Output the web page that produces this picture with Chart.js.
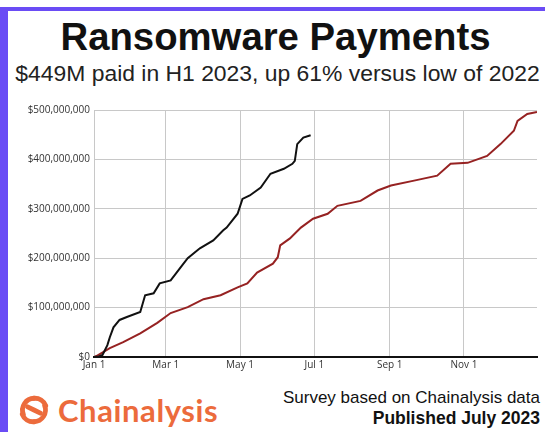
<!DOCTYPE html>
<html>
<head>
<meta charset="utf-8">
<script src="https://cdn.jsdelivr.net/npm/chart.js@4"></script>
<style>
  html, body { margin: 0; padding: 0; background: #fff; }
  #frame {
    position: relative; width: 545px; height: 432px; overflow: hidden;
    background: #fff; font-family: "Liberation Sans", Arial, sans-serif;
  }
  #frame .bar-top { position: absolute; left: 0; top: 7px; width: 545px; height: 4px; background: #6a4cf5; }
  #frame .bar-left { position: absolute; left: 0; top: 7px; width: 8px; height: 425px; background: #6a4cf5; }
  h1 { position: absolute; left: 6px; right: 0; top: 15px; margin: 0; text-align: center; line-height: 44px;
       font-size: 38.3px; font-weight: bold; color: #111; }
  .sub { position: absolute; left: 10px; right: 0; top: 59px; text-align: center; font-size: 22.9px; line-height: 28px; color: #222; white-space: nowrap; }
  #wrap { position: absolute; left: 8px; top: 100px; width: 537px; height: 285px; }
  .logo { position: absolute; left: 18px; top: 394px; display: flex; align-items: center; gap: 8px; }
  .logo span { font-family: "Lato", "Open Sans", sans-serif; font-weight: bold; font-size: 31px; line-height: 32px; color: #ec6b3c; letter-spacing: 0.6px; }
  .note { position: absolute; right: 5px; top: 387px; text-align: right; font-size: 17px; color: #111; line-height: 21px; white-space: nowrap; }
  .note b { font-size: 17.5px; }
</style>
</head>
<body>
<div id="frame">
  <div class="bar-top"></div>
  <div class="bar-left"></div>
  <h1>Ransomware Payments</h1>
  <div class="sub">$449M paid in H1 2023, up 61% versus low of 2022</div>
  <div id="wrap"><canvas id="chart"></canvas></div>
  <div class="logo">
    <svg width="32" height="32" viewBox="0 0 30 30">
      <g fill="none" stroke="#ec6b3c" stroke-width="4.5" stroke-linecap="round">
        <path d="M15 4 A11 11 0 0 0 5 19"/>
        <path d="M26 11 A11 11 0 0 0 15 4"/>
        <path d="M15 26 A11 11 0 0 0 25 11"/>
        <path d="M4 19 A11 11 0 0 0 15 26"/>
        <path d="M9 12 L15 15 L21 18"/>
      </g>
    </svg>
    <span>Chainalysis</span>
  </div>
  <div class="note">Survey based on Chainalysis data<br><b>Published July 2023</b></div>
</div>
<script>
// day of year (0 = Jan 1) and cumulative payments in USD millions
const days2023 = [0, 4, 7, 11, 13, 16, 21, 27, 38, 42, 49, 54, 63, 71, 77, 87, 98, 106, 109, 118, 122, 128, 137, 145, 156, 163, 165, 167, 172, 178];
const paid2023 = [0, 1, 4, 24, 40, 60, 75, 81, 91, 125, 129, 149, 155, 181, 200, 220, 236, 256, 262, 290, 320, 327, 343, 371, 381, 391, 397, 431, 444, 449];

const days2022 = [0, 2, 13, 24, 38, 52, 63, 77, 90, 104, 118, 126, 134, 147, 151, 153, 161, 170, 180, 192, 200, 219, 233, 244, 263, 282, 293, 307, 323, 334, 345, 348, 356, 364];
const paid2022 = [0, 2, 18, 30, 48, 69, 89, 101, 117, 125, 141, 149, 171, 189, 202, 226, 240, 262, 280, 290, 306, 316, 337, 347, 357, 367, 391, 393, 407, 431, 458, 478, 492, 496];

const tickDays = [0, 59, 120, 181, 243, 304];
const tickLabels = ['Jan 1', 'Mar 1', 'May 1', 'Jul 1', 'Sep 1', 'Nov 1'];
const yTicks = [0, 100, 200, 300, 400, 500];

const toPoints = (xs, ys) => xs.map((d, i) => ({ x: d, y: ys[i] }));

new Chart(document.getElementById('chart'), {
  type: 'line',
  data: {
    datasets: [
      { label: '2023', data: toPoints(days2023, paid2023), borderColor: '#111', borderWidth: 2, pointRadius: 0, tension: 0 },
      { label: '2022', data: toPoints(days2022, paid2022), borderColor: '#962222', borderWidth: 2, pointRadius: 0, tension: 0 }
    ]
  },
  options: {
    responsive: true, maintainAspectRatio: false, animation: false,
    layout: { padding: { top: 9, right: 8, left: 0, bottom: 0 } },
    plugins: { legend: { display: false }, tooltip: { enabled: false } },
    scales: {
      x: {
        type: 'linear', min: 0, max: 364,
        afterBuildTicks: s => { s.ticks = tickDays.map(v => ({ value: v })); },
        afterFit: s => { s.height = 28; },
        ticks: {
          autoSkip: false, maxRotation: 0, padding: 2,
          color: '#333', font: { family: 'Open Sans', size: 10 },
          callback: v => tickLabels[tickDays.indexOf(v)]
        },
        grid: { color: '#c8c8c8', lineWidth: 1, drawTicks: false },
        border: { color: '#111', width: 2 }
      },
      y: {
        min: 0, max: 500,
        afterBuildTicks: s => { s.ticks = yTicks.map(v => ({ value: v })); },
        afterFit: s => { s.width = 86; },
        ticks: {
          padding: 4, color: '#333', font: { family: 'Open Sans', size: 10 },
          callback: v => '$' + (v * 1e6).toLocaleString('en-US')
        },
        grid: { color: '#c8c8c8', lineWidth: 1, drawTicks: false },
        border: { display: false }
      }
    }
  }
});
</script>
</body>
</html>
